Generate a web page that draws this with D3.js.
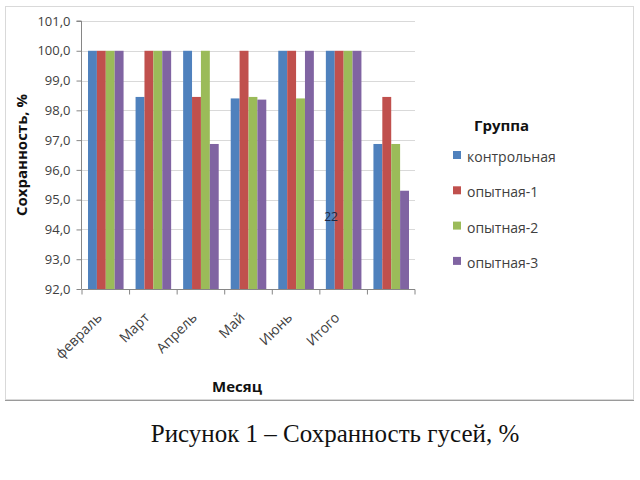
<!DOCTYPE html>
<html>
<head>
<meta charset="utf-8">
<script src="https://cdn.jsdelivr.net/npm/d3@7"></script>
<style>
  body { margin: 0; background: #fff; }
  svg text { font-family: "Open Sans", "DejaVu Sans", sans-serif; }
</style>
</head>
<body>
<script>
const months = ["февраль", "Март", "Апрель", "Май", "Июнь", "Итого", ""];
const groups = ["контрольная", "опытная-1", "опытная-2", "опытная-3"];
const colors = ["#4f81bd", "#c0504d", "#9bbb59", "#8064a2"];

// values per month, one per group
const kontrol = [100, 98.45, 100, 98.4, 100, 100, 96.87];
const opyt1 = [100, 100, 98.45, 100, 100, 100, 98.45];
const opyt2 = [100, 100, 100, 98.45, 98.4, 100, 96.87];
const opyt3 = [100, 100, 96.87, 98.36, 100, 100, 95.3];
const series = [kontrol, opyt1, opyt2, opyt3];

const yTicks = [92, 93, 94, 95, 96, 97, 98, 99, 100, 101];

const width = 640;
const height = 480;
const margin = { top: 21, left: 82, right: 225, bottom: 191 };

const svg = d3.select("body")
  .append("svg")
  .attr("width", width)
  .attr("height", height);

// chart frame
svg.append("rect")
  .attr("x", 5.5).attr("y", 6.5)
  .attr("width", 628).attr("height", 393)
  .attr("fill", "none")
  .attr("stroke", "#d9d9d9");
svg.append("line")
  .attr("x1", 5).attr("x2", 634)
  .attr("y1", 400.5).attr("y2", 400.5)
  .attr("stroke", "#9a9a9a");

const x0 = d3.scaleBand()
  .domain(d3.range(months.length))
  .range([margin.left, width - margin.right]);

const x1 = d3.scaleBand()
  .domain(d3.range(groups.length))
  .range([6, x0.bandwidth() - 6]);

const y = d3.scaleLinear()
  .domain([92, 101])
  .range([height - margin.bottom, margin.top]);

// gridlines
svg.append("g")
  .selectAll("line")
  .data(yTicks.slice(1))
  .join("line")
  .attr("x1", margin.left)
  .attr("x2", width - margin.right)
  .attr("y1", d => Math.round(y(d)) + 0.5)
  .attr("y2", d => Math.round(y(d)) + 0.5)
  .attr("stroke", "#d9d9d9");

// bars
svg.append("g")
  .selectAll("g")
  .data(months.map((m, i) => i))
  .join("g")
  .attr("transform", i => `translate(${x0(i)},0)`)
  .selectAll("rect")
  .data(i => series.map((s, k) => ({ k, v: s[i] })))
  .join("rect")
  .attr("x", d => x1(d.k))
  .attr("width", x1.bandwidth())
  .attr("y", d => y(d.v))
  .attr("height", d => y(92) - y(d.v))
  .attr("fill", d => colors[d.k]);

// y axis
const yAxis = svg.append("g")
  .attr("transform", `translate(${margin.left - 0.5},0)`)
  .call(d3.axisLeft(y)
    .tickValues(yTicks)
    .tickSize(5)
    .tickFormat(d => d3.format(".1f")(d).replace(".", ",")));
yAxis.select(".domain").attr("stroke", "#868686").attr("d", `M-5,${y(101)}H0V${y(92)}`);
yAxis.selectAll(".tick line").attr("stroke", "#868686");
yAxis.selectAll(".tick text")
  .attr("x", -11)
  .attr("fill", "#404040")
  .style("font-size", "13px");

// x axis
const xAxis = svg.append("g")
  .attr("transform", `translate(0,${Math.round(y(92)) + 0.5})`);
xAxis.append("line")
  .attr("x1", margin.left).attr("x2", width - margin.right)
  .attr("stroke", "#868686");
xAxis.selectAll("line.tk")
  .data(d3.range(months.length + 1))
  .join("line")
  .attr("class", "tk")
  .attr("x1", i => i < months.length ? x0(i) : x0(i - 1) + x0.bandwidth())
  .attr("x2", i => i < months.length ? x0(i) : x0(i - 1) + x0.bandwidth())
  .attr("y2", 5)
  .attr("stroke", "#868686");
xAxis.selectAll("text")
  .data(months)
  .join("text")
  .attr("transform", (d, i) => `translate(${x0(i) + x0.bandwidth() / 2 - 10},22) rotate(-45)`)
  .attr("text-anchor", "end")
  .attr("dy", "0.7em")
  .attr("fill", "#404040")
  .style("font-size", "14px")
  .text(d => d);

// axis titles
svg.append("text")
  .attr("transform", `translate(27,155) rotate(-90)`)
  .attr("text-anchor", "middle")
  .style("font-size", "15px")
  .style("font-weight", "bold")
  .attr("fill", "#111")
  .text("Сохранность, %");

svg.append("text")
  .attr("x", 237).attr("y", 392)
  .attr("text-anchor", "middle")
  .style("font-size", "15px")
  .style("font-weight", "bold")
  .attr("fill", "#111")
  .text("Месяц");

// stray label on the chart
svg.append("text")
  .attr("x", 331).attr("y", 221)
  .attr("text-anchor", "middle")
  .style("font-size", "12px")
  .attr("fill", "#1f2a44")
  .text("22");

// legend
const legend = svg.append("g").attr("transform", "translate(453,0)");
legend.append("text")
  .attr("x", 21).attr("y", 131)
  .style("font-size", "15px")
  .style("font-weight", "bold")
  .attr("fill", "#111")
  .text("Группа");
const item = legend.selectAll("g")
  .data(groups)
  .join("g")
  .attr("transform", (d, i) => `translate(0,${151 + i * 35.3})`);
item.append("rect")
  .attr("width", 8).attr("height", 8)
  .attr("fill", (d, i) => colors[i]);
item.append("text")
  .attr("x", 14).attr("y", 11)
  .style("font-size", "14px")
  .attr("fill", "#404040")
  .text(d => d);

// caption
svg.append("text")
  .attr("x", 335).attr("y", 442)
  .attr("text-anchor", "middle")
  .style("font-family", "'Liberation Serif', 'Times New Roman', serif")
  .style("font-size", "25px")
  .attr("fill", "#111")
  .text("Рисунок 1 – Сохранность гусей, %");
</script>
</body>
</html>
